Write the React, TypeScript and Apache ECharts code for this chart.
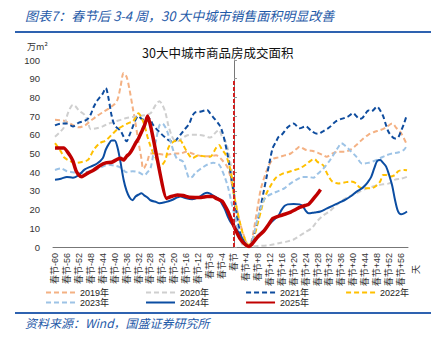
import React, { useEffect, useRef } from "react";
import * as echarts from "echarts";

const tickDays = [-60, -56, -52, -48, -44, -40, -36, -32, -28, -24, -20, -16, -12, -8, -4, 0, 4, 8, 12, 16, 20, 24, 28, 32, 36, 40, 44, 48, 52, 56];
const tickLabels = ["春节-60", "春节-56", "春节-52", "春节-48", "春节-44", "春节-40", "春节-36", "春节-32", "春节-28", "春节-24", "春节-20", "春节-16", "春节-12", "春节-8", "春节-4", "春节", "春节+4", "春节+8", "春节+12", "春节+16", "春节+20", "春节+24", "春节+28", "春节+32", "春节+36", "春节+40", "春节+44", "春节+48", "春节+52", "春节+56"];

const years = ["2019年", "2020年", "2021年", "2022年", "2023年", "2024年", "2025年"];

const y2019 = [[-60,68],[-57,67.5],[-55,66],[-52,64],[-50,65],[-48,67.5],[-46,70],[-44,72],[-42,74],[-40,76.5],[-39,79],[-38,86],[-37,93],[-36,91],[-35,84],[-34,75],[-33,66],[-32,56],[-31,47],[-30.5,42],[-30,42.5],[-29,46],[-28,50],[-26,50],[-24,49.5],[-22,49.5],[-20,50],[-18,50],[-16,51],[-14,50],[-12,49],[-10,48.5],[-8,48.5],[-6,49],[-4,46.5],[-2,42],[0,28],[2,13],[4,3],[5,1],[6,4],[8,22],[9,31],[11,41],[13,47],[15,48],[17,49],[19,50],[21,52.5],[22,53.6],[24,52],[26,51.5],[28,50.5],[30,49],[31,48.3],[33,50],[35,51],[37,51],[39,52],[41,54.5],[43,57.5],[45,60],[47,61.5],[49,62.5],[51,64],[53,66],[54.5,63.5],[56,61],[58,54.5]];
const y2020 = [[-60,59],[-58,62],[-57,64],[-56,70],[-55,74],[-54,76],[-53,75],[-52,73],[-50,70.5],[-49,67],[-48,63],[-46,63.5],[-44,64.5],[-42,66],[-40,67],[-38,68],[-36,69],[-34,69.5],[-32,70],[-30,70.5],[-28,71.5],[-27,74],[-26,76.5],[-25,78],[-24,76],[-23,72],[-22,65],[-21,60],[-20,57],[-19,56.5],[-18,57.5],[-16,59.5],[-14,60],[-12,60],[-10,59.5],[-8,58.5],[-6,61.5],[-5,62.5],[-4,59],[-3,57],[-2,52],[-1,43],[0,30],[1,15],[2,5],[3,1],[5,0.3],[8,0.5],[12,1],[15,2],[18,3],[20,4],[22,6],[24,8],[26,10],[28,14],[30,17],[32,19],[34,22],[36,24.5],[38,26.5],[40,28],[42,29.5],[44,31],[46,32],[48,33],[50,33.5],[52,34],[54,36],[56,36.5],[58,37.5]];
const y2021 = [[-60,65],[-58,66],[-56,66],[-54,64.5],[-52,66.5],[-50,67.5],[-49,68.5],[-48,71],[-47,75],[-46,78],[-45,80],[-44,82],[-43,85],[-42,79],[-41,70],[-40,65],[-39,63.5],[-38,62],[-37,59],[-36,56.5],[-35,60],[-34,64],[-33,68],[-32,70],[-31,68.5],[-30,68],[-29,69.5],[-28,68],[-27,65],[-25,61.5],[-23,58.5],[-21,56.5],[-20,56.5],[-19,58],[-17,62],[-15,66],[-14,70],[-13,72],[-11,72.5],[-9,73.3],[-8,71.5],[-7,69.5],[-5,65.5],[-4,62],[-3,56],[-2,48],[-1,38],[0,28],[1,17],[2,8],[3,3],[4,1],[5,0.5],[6,3],[7,8],[8,14],[9,22],[10,30],[11,38],[12,46],[13,53],[14,56],[15,59],[16,60],[18,64],[20,66],[22,63.5],[24,64.5],[26,62],[28,60.5],[30,62],[32,64],[34,67],[36,68.5],[38,69.5],[40,71.5],[41,70],[42,68.5],[43,69],[44,71],[45,73],[46,72.5],[48,75],[49,73],[50,70],[51,65],[52,61],[54,58],[55,58.5],[56,62],[57,66],[58,71]];
const y2022 = [[-60,55.5],[-58,51],[-57,48],[-55,46],[-53,45],[-51,45.5],[-49,46.5],[-48,49],[-47,52],[-45,55.5],[-43,57],[-41,60],[-39,63],[-37,65],[-35,66.5],[-34,67],[-33,69],[-32,71.5],[-31,69],[-30,65],[-29,59],[-28,54],[-27,50],[-26,47],[-25,42.5],[-24,44],[-23,46.5],[-22,53],[-21,55.5],[-19,57],[-18,57],[-17,54.5],[-16,51.5],[-15,49],[-14,47.5],[-12,49],[-10,48.5],[-8,48.3],[-6,53],[-5,54.5],[-4,52],[-3,50],[-2,46],[-1,40],[0,28],[1,20],[2,13],[3,7],[4,3],[5,1],[6,3],[7,7],[8,13],[9,19],[10,25],[11,29],[12,32],[14,37],[16,39],[18,40],[20,41],[22,42],[24,44],[26,46.5],[27,47],[28,45.5],[30,43.5],[31,40],[32,37],[33,35],[35,34],[37,34.5],[39,35],[41,34],[42,32],[44,31.4],[46,31.4],[47.5,32.5],[49,35],[50,38.5],[51,38.5],[52,37.6],[54,38.5],[55,40.5],[57,41.2],[58,41]];
const y2023 = [[-60,41.2],[-58,42],[-56,40.5],[-54,40],[-52,39.5],[-50,40],[-48,40.5],[-46,41.5],[-44,43],[-42,44],[-40,43.5],[-38,42.5],[-36,40],[-34,40.5],[-32,40],[-30,38.5],[-29,40],[-28,42],[-27,50],[-26,58],[-25,65],[-24,66],[-23,64],[-22,60],[-21,55],[-20,50],[-19,47],[-18,46.5],[-17,45.5],[-16,41],[-15,37],[-14,37.5],[-13,39.5],[-11,42],[-9,44],[-7,45],[-5,44],[-4,41],[-3,37],[-2,32],[-1,25],[0,18],[1,11],[2,6],[3,3],[4,1],[5,0.5],[6,3],[7,9],[8,16],[9,21],[10,25],[11,27],[13,28.7],[15,30],[17,31.5],[19,34],[21,36],[23,37.5],[25,37.5],[26.6,37],[28,39],[30,42],[32,46],[34,51],[35,53.5],[36,55.5],[37,54.5],[39,51.5],[41,48.3],[43,44.5],[45,45],[47,46],[49,47.5],[51,49],[53,50],[55,50.5],[57,52],[58,54.5]];
const y2024 = [[-60,36],[-58,36.5],[-56,37.5],[-54,37],[-52,38.5],[-50,41.5],[-48,43],[-46,44.5],[-44,47.5],[-43,52],[-42,55],[-41,57],[-40,57],[-39,53],[-38,45],[-37,36],[-36,30],[-35,26.5],[-34,25],[-33,27],[-32,28],[-31,28.7],[-30,27.5],[-29,26.5],[-28,25],[-26,24],[-25,23.4],[-23,24],[-21,25],[-19,26.5],[-18,27],[-16,26],[-14,25.5],[-12,26.5],[-10,28.5],[-9,29],[-8,28.5],[-7,27.5],[-5,25.5],[-4,23],[-3,20],[-2,16],[-1,13],[0,11],[1,9],[2,7],[3,4],[4,1.5],[5,0.5],[6,2],[7,4],[8,6],[10,9],[12,12.5],[14,15.5],[15,17],[16,20],[17,22],[18,22.8],[20,23],[22,22.8],[23,22],[24,19.5],[25,18],[27,18.5],[29,19],[31,20.5],[33,22],[35,23.5],[37,25],[39,27],[41,29.5],[43,31.5],[44,33],[45,35],[46,37.5],[47,42],[48,46],[49,46.5],[50,45],[51,43],[52,38.5],[53,33],[54,25],[55,19],[56,17.5],[57,18],[58,19]];
const y2025 = [[-60,53],[-57,53],[-55,49],[-54,46],[-53,41],[-52,38.5],[-51,37.6],[-50,38.5],[-49,39.5],[-47,41.2],[-45,43.5],[-43,45],[-41,45.3],[-39,47],[-38,47.4],[-37,46.5],[-36,48.5],[-35,50],[-34,52.5],[-33,55.5],[-32,58],[-31,61.5],[-30,65],[-29,70],[-22.6,26],[-21,27],[-19,27.8],[-17,27.5],[-15,26.6],[-13,26.5],[-11,26.5],[-9,27],[-7,27],[-6,26],[-4,24.5],[-3,22],[-2,19],[-1,15],[0,11],[1,7.5],[2,4.5],[3,2.5],[4,1],[5,0.3],[6,1.5],[7,3.5],[8,5.5],[10,8.5],[12,13],[13,15.3],[15,16.5],[17,17.5],[19,18.7],[20,19.5],[22,21.2],[24,22.3],[25,22.8],[26,24.5],[27,26.5],[28,28.5],[29,30.8]];
const festivalLine = [[0, 0], [0, 89]];

const seriesData = [y2019, y2020, y2021, y2022, y2023, y2024, y2025];
const colors = ["#F4B183", "#CFCFCF", "#0E4C9E", "#FFC000", "#9DC3E6", "#0B4DA2", "#C00000"];
const dashed = [true, true, true, true, true, false, false];
const widths = [2, 2, 2, 2, 2, 2, 3.5];

const FONT = 'Arial, "Liberation Sans", "Noto Sans CJK SC", sans-serif';

export default function App() {
  const ref = useRef<HTMLDivElement>(null);
  useEffect(() => {
    const chart = echarts.init(ref.current!, null, { renderer: "svg" });
    const series: any[] = years.map((name, i) => ({
      name,
      type: "line",
      data: seriesData[i],
      symbol: "none",
      smooth: i === 6 ? 0.15 : 0.3,
      lineStyle: { color: colors[i], width: widths[i], type: dashed[i] ? [5, 3] : "solid" },
      itemStyle: { color: colors[i] },
      z: 2 + i,
    }));
    series.push({
      name: "festival",
      type: "line",
      data: festivalLine,
      symbol: "none",
      lineStyle: { color: "#D02020", width: 2, type: [4, 2] },
      z: 10,
    });
    const legendCommon = {
      left: 45,
      padding: 0,
      itemWidth: 29,
      itemHeight: 8,
      itemGap: 36,
      itemStyle: { opacity: 0 },
      textStyle: { fontSize: 9, color: "#222", fontFamily: FONT },
    };
    chart.setOption({
      animation: false,
      textStyle: { fontFamily: FONT },
      grid: { left: 53, right: 34, top: 60, bottom: 91, containLabel: false },
      legend: [
        { ...legendCommon, top: 288, data: years.slice(0, 4) },
        { ...legendCommon, top: 298, data: years.slice(4) },
      ],
      xAxis: {
        type: "value",
        min: -60.67,
        max: 58.33,
        axisLine: { show: true, onZero: false, lineStyle: { color: "#777" } },
        axisTick: { show: false },
        splitLine: { show: false },
        axisLabel: {
          customValues: tickDays,
          rotate: 90,
          fontSize: 9,
          color: "#333",
          margin: 6,
          formatter: (v: number) => {
            const idx = tickDays.indexOf(Math.round(v));
            return idx >= 0 ? tickLabels[idx] : "";
          },
        },
      },
      yAxis: {
        type: "value",
        min: 0,
        max: 100,
        interval: 10,
        axisLine: { show: true, lineStyle: { color: "#777" } },
        axisTick: { show: true, inside: true, length: 3, lineStyle: { color: "#999" } },
        splitLine: { show: false },
        axisLabel: { fontSize: 9.5, color: "#333", margin: 13 },
      },
      graphic: [
        {
          type: "text",
          left: 25,
          top: 9,
          style: {
            text: "图表7：春节后 3-4 周，30 大中城市销售面积明显改善",
            font: 'italic 13px "Noto Sans CJK SC", sans-serif',
            fill: "#1F5AA8",
          },
        },
        { type: "rect", shape: { x: 15, y: 31, width: 416, height: 2 }, style: { fill: "#2E62B0" } },
        {
          type: "text",
          left: 142,
          top: 46,
          style: { text: "30大中城市商品房成交面积", font: '12.5px "Noto Sans CJK SC", sans-serif', fill: "#111" },
        },
        {
          type: "text",
          left: 27,
          top: 42,
          style: { text: "万m²", font: '9px "Noto Sans CJK SC", sans-serif', fill: "#333" },
        },
        {
          type: "text",
          x: 411,
          y: 274,
          rotation: Math.PI / 2,
          style: { text: "天", font: '9px "Noto Sans CJK SC", sans-serif', fill: "#333" },
        },
        { type: "rect", shape: { x: 15, y: 312, width: 416, height: 2 }, style: { fill: "#2E62B0" } },
        {
          type: "text",
          left: 25,
          top: 316,
          style: {
            text: "资料来源：Wind，国盛证券研究所",
            font: 'italic 12px "Noto Sans CJK SC", sans-serif',
            fill: "#1F5AA8",
          },
        },
      ],
      series,
    });
    return () => chart.dispose();
  }, []);
  return (
    <div
      ref={ref}
      style={{ position: "absolute", left: 0, top: 0, width: 442, height: 338, background: "#fff" }}
    />
  );
}
